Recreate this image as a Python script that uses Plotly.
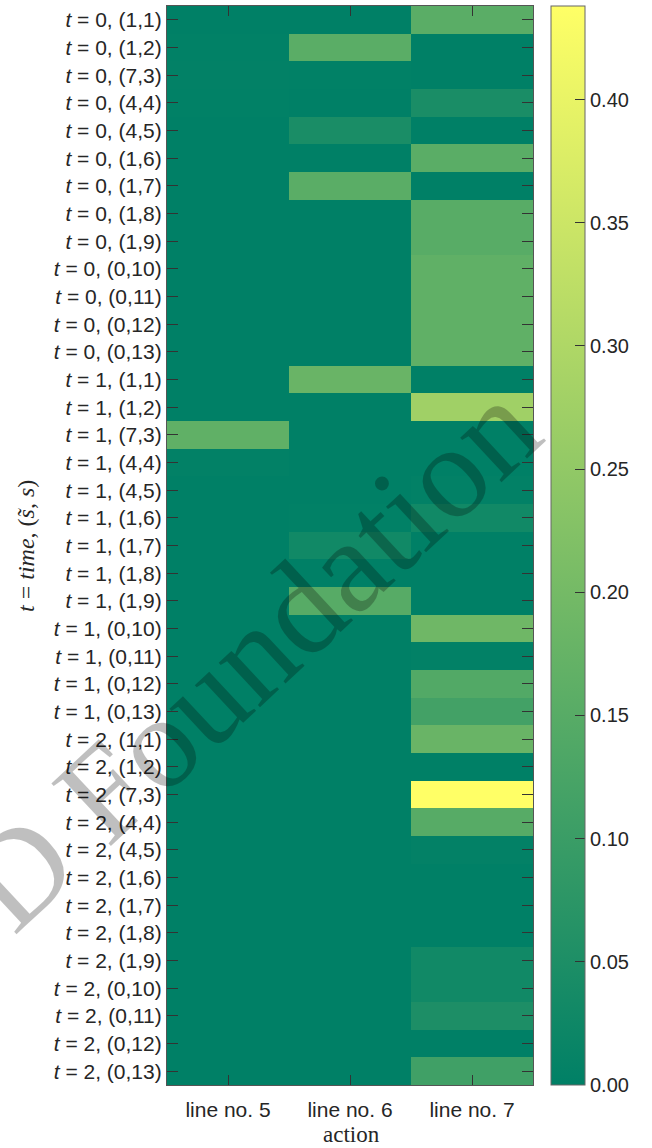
import plotly.graph_objects as go

# ---- data ----
actions = ["line no. 5", "line no. 6", "line no. 7"]
times = [0, 1, 2]
states = ["(1,1)", "(1,2)", "(7,3)", "(4,4)", "(4,5)", "(1,6)", "(1,7)",
          "(1,8)", "(1,9)", "(0,10)", "(0,11)", "(0,12)", "(0,13)"]
row_labels = [f"<i>t</i> = {t}, {s}" for t in times for s in states]

line5 = [0.000, 0.002, 0.003, 0.002, 0.000, 0.000, 0.000, 0.000, 0.000, 0.000, 0.000, 0.000, 0.000,
         0.000, 0.000, 0.165, 0.003, 0.000, 0.000, 0.000, 0.000, 0.000, 0.000, 0.000, 0.000, 0.000,
         0.000, 0.000, 0.000, 0.000, 0.000, 0.000, 0.000, 0.000, 0.000, 0.000, 0.000, 0.000, 0.000]
line6 = [0.000, 0.155, 0.002, 0.000, 0.045, 0.000, 0.155, 0.000, 0.000, 0.000, 0.000, 0.000, 0.000,
         0.180, 0.000, 0.000, 0.000, 0.000, 0.002, 0.030, 0.000, 0.150, 0.000, 0.000, 0.000, 0.000,
         0.000, 0.000, 0.000, 0.000, 0.000, 0.000, 0.000, 0.000, 0.000, 0.000, 0.000, 0.000, 0.000]
line7 = [0.155, 0.000, 0.000, 0.045, 0.000, 0.155, 0.000, 0.152, 0.152, 0.165, 0.165, 0.165, 0.165,
         0.000, 0.275, 0.000, 0.000, 0.003, 0.030, 0.000, 0.000, 0.000, 0.190, 0.003, 0.140, 0.115,
         0.180, 0.000, 0.438, 0.150, 0.005, 0.000, 0.000, 0.000, 0.030, 0.030, 0.050, 0.000, 0.110]

cbar_ticks = [0.00, 0.05, 0.10, 0.15, 0.20, 0.25, 0.30, 0.35, 0.40]

z = [[a, b, c] for a, b, c in zip(line5, line6, line7)]

# ---- layout constants (pixels) ----
W, H = 652, 1148
L, R, T, B = 167, 119, 6, 63
pw = W - L - R
ph = H - T - B

def px_x(x):
    return (x - L) / pw

def px_y(y):
    return 1 - (y - T) / ph

summer = [[0.0, "rgb(0,128,102)"], [1.0, "rgb(255,255,102)"]]

fig = go.Figure(go.Heatmap(
    z=z, x=actions, y=row_labels,
    colorscale=summer, zmin=0, zmax=0.438,
    colorbar=dict(
        thickness=34, thicknessmode="pixels",
        len=1, lenmode="fraction", y=0.5, yanchor="middle",
        x=px_x(551), xanchor="left", xpad=0, ypad=0,
        outlinecolor="#666666", outlinewidth=1,
        tickvals=cbar_ticks, tickformat=".2f",
        ticks="inside", ticklen=10, tickcolor="#333333", tickwidth=1,
        tickfont=dict(family="Liberation Sans, Arial, sans-serif", size=20, color="#262626"),
    ),
    hoverinfo="skip",
))

fig.update_xaxes(
    showline=True, linecolor="#555555", linewidth=1.2, mirror="ticks",
    ticks="inside", ticklen=10, tickcolor="#333333", tickwidth=1,
    tickfont=dict(family="Liberation Sans, Arial, sans-serif", size=21, color="#262626"),
    ticklabelstandoff=6,
    showgrid=False, zeroline=False,
)
fig.update_yaxes(
    autorange="reversed",
    showline=True, linecolor="#555555", linewidth=1.2, mirror="ticks",
    ticks="inside", ticklen=11, tickcolor="#333333", tickwidth=1,
    tickfont=dict(family="Liberation Sans, Arial, sans-serif", size=21, color="#262626"),
    showgrid=False, zeroline=False,
)

annotations = [
    dict(text="<i>t</i> = <i>time</i>, (<i>s̃</i>, <i>s</i>)",
         xref="paper", yref="paper", x=px_x(26), y=px_y(546),
         xanchor="center", yanchor="middle", textangle=-90, showarrow=False,
         font=dict(family="Liberation Serif, Times New Roman, serif", size=24, color="#262626")),
    dict(text="action",
         xref="paper", yref="paper", x=px_x(351), y=px_y(1134),
         xanchor="center", yanchor="middle", showarrow=False,
         font=dict(family="Liberation Serif, Times New Roman, serif", size=23, color="#262626")),
    dict(text="D Foundation",
         xref="paper", yref="paper", x=px_x(250), y=px_y(655),
         xanchor="center", yanchor="middle", textangle=-43, showarrow=False,
         font=dict(family="Liberation Serif, Times New Roman, serif", size=132,
                   color="rgba(0,0,0,0.25)")),
]

fig.update_layout(
    width=W, height=H,
    margin=dict(l=L, r=R, t=T, b=B, autoexpand=False),
    paper_bgcolor="white", plot_bgcolor="white",
    annotations=annotations,
    showlegend=False,
)

fig.write_html(
    "out.html",
    config={"displayModeBar": False},
    post_script="document.body.style.margin='0';document.body.style.padding='0';",
)
